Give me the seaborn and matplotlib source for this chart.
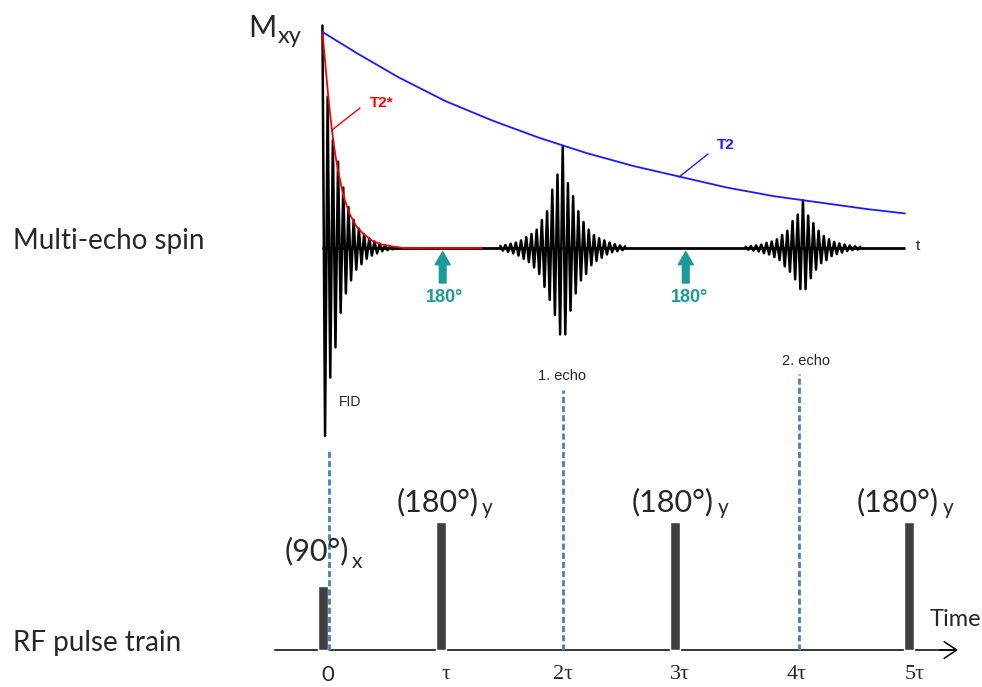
import numpy as np
import pandas as pd
import matplotlib
matplotlib.use("Agg")
import matplotlib.pyplot as plt
import seaborn as sns

sns.set_style("white")
plt.rcParams["font.family"] = ["Lato", "DejaVu Sans"]

# time is measured in units of tau
tick_pos = [0, 1, 2, 3, 4, 5]
tick_labels = ["0", "τ", "2τ", "3τ", "4τ", "5τ"]

# RF pulse train (180° pulse = 1)
pulse_t = [0, 1, 3, 5]
pulse_h = [0.5, 1.0, 1.0, 1.0]
pulse_names = ["(90°)", "(180°)", "(180°)", "(180°)"]
pulse_subs = ["x", "y", "y", "y"]

# T2 decay envelope (blue)
t2_t = [-0.05, 0.25, 0.6, 1.0, 1.4, 1.8, 2.2, 2.6, 3.0, 3.4, 3.8, 4.2, 4.6, 4.92]
t2_v = [1.0, 0.90, 0.79, 0.68, 0.59, 0.51, 0.44, 0.38, 0.33, 0.28, 0.24, 0.21, 0.18, 0.16]

# T2* decay envelope (red)
t2s_t = [-0.05, -0.02, 0.0, 0.03, 0.06, 0.09, 0.13, 0.18, 0.24, 0.30, 0.37, 0.45, 0.55, 0.65, 1.31]
t2s_v = [1.0, 0.82, 0.70, 0.55, 0.43, 0.34, 0.24, 0.16, 0.10, 0.065, 0.035, 0.017, 0.007, 0.0, 0.0]

# half-cycle peak amplitudes of the measured signal
half_cycle = 0.0222
fid_start = -0.05
fid_peaks = [1.03, -0.87, 0.70, -0.60, 0.50, -0.46, 0.40, -0.30, 0.28, -0.21,
             0.19, -0.15, 0.13, -0.10, 0.09, -0.075, 0.065, -0.05, 0.045, -0.035,
             0.03, -0.025, 0.02, -0.015, 0.013, -0.01, 0.008, -0.006, 0.004, -0.003]
echo1_center = 2.0
echo1_peaks = [0.01, -0.012, 0.014, -0.018, 0.02, -0.025, 0.025, -0.035, 0.035, -0.05,
               0.05, -0.065, 0.065, -0.09, 0.085, -0.12, 0.13, -0.18, 0.17, -0.24,
               0.27, -0.31, 0.34, -0.40, 0.47, -0.40, 0.30, -0.29, 0.24, -0.21,
               0.17, -0.15, 0.12, -0.12, 0.085, -0.08, 0.06, -0.06, 0.045, -0.045,
               0.035, -0.03, 0.025, -0.02, 0.018, -0.015, 0.012, -0.01, 0.008]
echo2_center = 4.05
echo2_peaks = [0.006, -0.008, 0.009, -0.012, 0.012, -0.016, 0.016, -0.024, 0.024, -0.03,
               0.03, -0.042, 0.04, -0.056, 0.06, -0.085, 0.08, -0.11, 0.125, -0.145,
               0.155, -0.19, 0.22, -0.19, 0.15, -0.14, 0.115, -0.10, 0.08, -0.07,
               0.056, -0.056, 0.04, -0.038, 0.028, -0.028, 0.021, -0.021, 0.016, -0.014,
               0.012, -0.01, 0.008, -0.007, 0.006]

signal_end = 4.92
refocus_t = [0.976, 3.05]          # 180° arrows on the signal
echo_marks = [0.01, 2.005, 4.016]   # dashed guide lines
echo_tops = [1.57, 2.03, 2.16]

W, H = 982, 687
X0, XS = 328.3, 117.2   # pixel of t=0, pixels per tau


def tx(px):
    return (px - X0) / XS


def fpos(x, y):
    return x / W, 1 - y / H


fig = plt.figure(figsize=(W / 100, H / 100), dpi=100)

# ---- signal panel ----
ax1 = fig.add_axes([0, 1 - 460 / H, 1, 460 / H])
ax1.set_xlim(tx(0), tx(W))
ax1.set_ylim((248 - 460) / 216, 248 / 216)
ax1.axis("off")

rows = []
for name, start, peaks in [("fid", fid_start, fid_peaks),
                           ("e1", echo1_center - half_cycle * (len(echo1_peaks) // 2), echo1_peaks),
                           ("e2", echo2_center - half_cycle * (len(echo2_peaks) // 2), echo2_peaks)]:
    for i, v in enumerate(peaks):
        rows.append({"seg": name, "t": start + i * half_cycle, "v": v})
sig = pd.DataFrame(rows)

ax1.hlines(0, fid_start, signal_end, color="black", lw=2.0, zorder=2)
sns.lineplot(data=sig, x="t", y="v", units="seg", estimator=None, sort=False,
             color="black", lw=1.8, ax=ax1, zorder=3)
sns.lineplot(x=t2s_t, y=t2s_v, sort=False, color="red", lw=1.3, ax=ax1, zorder=4)
sns.lineplot(x=t2_t, y=t2_v, sort=False, color="#1a1aff", lw=1.3, ax=ax1, zorder=4)

teal = "#1a9a9a"
for t in refocus_t:
    ax1.annotate("", xy=(t, -0.017), xytext=(t, -0.162),
                 arrowprops=dict(arrowstyle="simple,head_length=0.47,head_width=0.54,tail_width=0.24",
                                 color=teal, shrinkA=0, shrinkB=0, mutation_scale=20))
for px in [444.5, 689.0]:
    fig.text(*fpos(px, 297), "180°", color=teal, fontsize=13, fontweight="bold",
             family="Liberation Sans", ha="center", va="center")

# leader lines for the envelope labels
for (x0, y0, x1, y1, c) in [(332, 130, 360, 108, "red"), (679, 177, 708, 154, "#1a1aff")]:
    fig.add_artist(plt.Line2D([x0 / W, x1 / W], [1 - y0 / H, 1 - y1 / H], color=c, lw=1.0))
fig.text(*fpos(382, 103), "T2*", color="red", fontsize=11, fontweight="bold",
         family="Liberation Sans", ha="center", va="center")
fig.text(*fpos(726, 145), "T2", color="#1a1aff", fontsize=11, fontweight="bold",
         family="Liberation Sans", ha="center", va="center")

fig.text(*fpos(248, 37), "M", fontsize=22, ha="left", va="baseline")
fig.text(*fpos(278, 43), "xy", fontsize=17, ha="left", va="baseline")
fig.text(*fpos(916, 246), "t", fontsize=11, family="Liberation Sans", ha="left", va="center")
fig.text(*fpos(350, 402), "FID", fontsize=10, family="Liberation Sans", ha="center", va="center")
fig.text(*fpos(562.5, 376), "1. echo", fontsize=10.5, family="Liberation Sans", ha="center", va="center")
fig.text(*fpos(806, 361), "2. echo", fontsize=10.5, family="Liberation Sans", ha="center", va="center")

fig.text(*fpos(13, 241), "Multi-echo spin", fontsize=20, ha="left", va="center")
fig.text(*fpos(13, 643), "RF pulse train", fontsize=20, ha="left", va="center")

# ---- RF pulse panel ----
ax2 = fig.add_axes([0, 0, 1, 227 / H])
ax2.set_facecolor("none")
ax2.set_xlim(tx(0), tx(W))
ax2.set_ylim((650 - 687) / 128, (650 - 460) / 128)
for s in ["top", "right", "left"]:
    ax2.spines[s].set_visible(False)
ax2.spines["bottom"].set_position(("data", 0))
ax2.spines["bottom"].set_bounds(tx(275), tx(955))
ax2.spines["bottom"].set_linewidth(1.1)
ax2.spines["bottom"].set_color("black")
ax2.set_yticks([])
ax2.set_xticks(tick_pos, tick_labels)
ax2.tick_params(axis="x", direction="inout", length=15, width=1.1, pad=3, labelsize=16)
for i, lab in enumerate(ax2.get_xticklabels()):
    lab.set_family("Lato" if i == 0 else "Liberation Serif")
ax2.annotate("", xy=(tx(958), 0), xytext=(tx(940), 0),
             arrowprops=dict(arrowstyle="->,head_length=0.45,head_width=0.3", lw=1.1,
                             color="black", shrinkA=0, shrinkB=0, mutation_scale=20))

ax2.bar(pulse_t, pulse_h, width=-0.085, align="edge", color="#404040", zorder=3)

for t, top in zip(echo_marks, echo_tops):
    ax2.plot([t, t], [0, top], color="#4a7ebb", lw=2, ls=(0, (2.2, 1.1)),
             clip_on=False, zorder=5)

label_px = [(285, 551, 352, 568), (396.7, 502, 481.7, 514),
            (631.7, 502, 718, 514), (856.7, 502, 942.7, 514)]
for name, sub, (lx, ly, sx, sy) in zip(pulse_names, pulse_subs, label_px):
    fig.text(*fpos(lx, ly), name, fontsize=22, ha="left", va="center")
    fig.text(*fpos(sx, sy), sub, fontsize=15, ha="left", va="baseline")

fig.text(*fpos(930, 620), "Time", fontsize=17, ha="left", va="center")

fig.savefig("out.png", dpi=100)
